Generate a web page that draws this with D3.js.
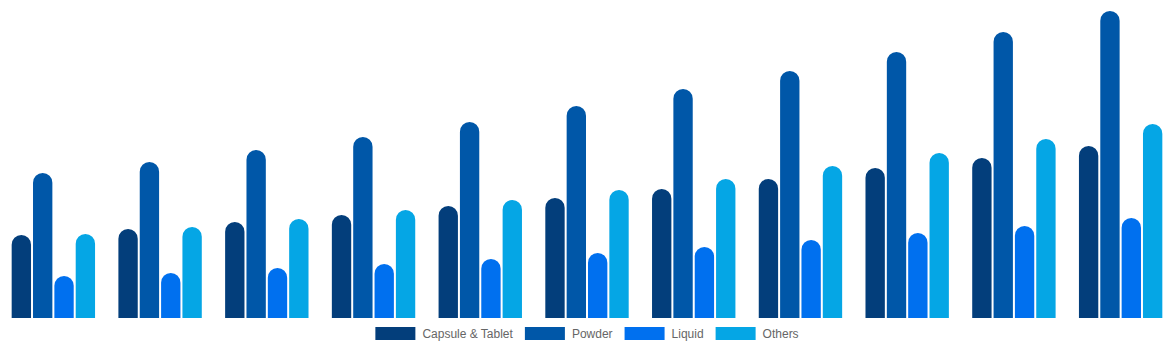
<!DOCTYPE html>
<html>
<head>
<meta charset="utf-8">
<script src="https://cdn.jsdelivr.net/npm/d3@7"></script>
<style>
  body { margin: 0; background: #fff; }
  svg { display: block; }
</style>
</head>
<body>
<svg id="draw"></svg>
<script>
// values (bar heights, arbitrary units)
var years = ["2020", "2021", "2022", "2023", "2024", "2025", "2026", "2027", "2028", "2029", "2030"];
var seriesNames = ["Capsule & Tablet", "Powder", "Liquid", "Others"];
var capsuleTablet = [83, 89, 96, 103, 112, 120, 129, 139, 150, 160, 172];
var powder = [145, 156, 168, 181, 196, 212, 229, 247, 266, 286, 307];
var liquid = [42, 45, 50, 54, 59, 65, 71, 78, 85, 92, 100];
var others = [84, 91, 99, 108, 118, 128, 139, 152, 165, 179, 194];
var colors = ["#033e7b", "#0057a8", "#0070ef", "#05a6e5"];

var seriesValues = [capsuleTablet, powder, liquid, others];

var width = 1174;
var height = 350;
var bottom = 318;

var svg = d3.select("#draw")
  .attr("width", width)
  .attr("height", height);

var x0 = d3.scaleBand()
  .domain(years)
  .range([0, width])
  .paddingInner(0.2)
  .paddingOuter(0.1);

var x1 = d3.scaleBand()
  .domain(seriesNames)
  .range([0, x0.bandwidth()]);

var y = d3.scaleLinear()
  .domain([0, 318])
  .range([bottom, 0]);

// bar with rounded top corners
function roundedTop(x, yTop, w, h) {
  var r = Math.min(w / 2, h);
  return "M" + x + "," + (yTop + h) +
    "V" + (yTop + r) +
    "A" + r + "," + r + " 0 0 1 " + (x + r) + "," + yTop +
    "H" + (x + w - r) +
    "A" + r + "," + r + " 0 0 1 " + (x + w) + "," + (yTop + r) +
    "V" + (yTop + h) + "Z";
}

var rows = years.map(function(yr, i) {
  return {
    year: yr,
    values: seriesNames.map(function(s, j) {
      return { name: s, value: seriesValues[j][i], color: colors[j] };
    })
  };
});

var group = svg.append("g").selectAll("g")
  .data(rows)
  .enter().append("g")
  .attr("transform", function(d) { return "translate(" + x0(d.year) + ",0)"; });

var border = 1;
group.selectAll("path")
  .data(function(d) { return d.values; })
  .enter().append("path")
  .attr("fill", function(d) { return d.color; })
  .attr("d", function(d) {
    var bx = x1(d.name) + border;
    var bw = x1.bandwidth() - border * 2;
    var top = y(d.value);
    return roundedTop(bx, top, bw, bottom - top);
  });

// legend
var boxW = 40, boxH = 13, gap = 7, itemPad = 12;
var legend = svg.append("g");
var items = legend.selectAll("g")
  .data(seriesNames)
  .enter().append("g");

items.append("rect")
  .attr("width", boxW)
  .attr("height", boxH)
  .attr("y", 327)
  .attr("fill", function(d, i) { return colors[i]; });

items.append("text")
  .attr("x", boxW + gap)
  .attr("y", 333.5)
  .attr("dy", "0.35em")
  .attr("fill", "#666")
  .style("font-family", "'Liberation Sans', Arial, Helvetica, sans-serif")
  .style("font-size", "12px")
  .text(function(d) { return d; });

var offsets = [];
var total = 0;
items.each(function(d, i) {
  var tw = this.querySelector("text").getComputedTextLength();
  offsets.push(total);
  total += boxW + gap + tw + (i < seriesNames.length - 1 ? itemPad : 0);
});
var start = (width - total) / 2;
items.attr("transform", function(d, i) { return "translate(" + (start + offsets[i]) + ",0)"; });
</script>
</body>
</html>
